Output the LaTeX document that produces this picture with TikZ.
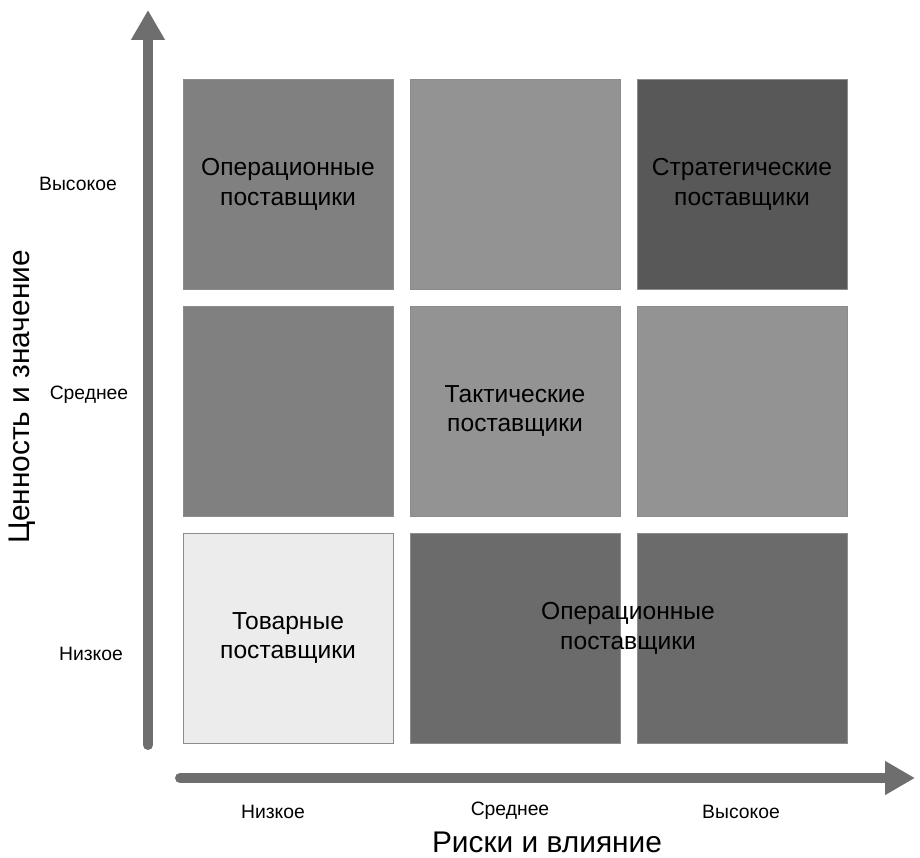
\documentclass[tikz,border=0pt]{standalone}
\usepackage{fontspec}
\setmainfont{Liberation Sans}
\usepackage{tikz}
\usetikzlibrary{arrows.meta}
\usepackage{tkz-euclide}
\usepackage{xcolor}

\definecolor{axisgray}{HTML}{6E6E6E}
\definecolor{cellmid}{HTML}{808080}
\definecolor{cellsoft}{HTML}{939393}
\definecolor{celldark}{HTML}{585858}
\definecolor{cellheavy}{HTML}{6B6B6B}
\definecolor{cellpale}{HTML}{ECECEC}

\begin{document}
\begin{tikzpicture}[scale=1,
    cell/.style={draw=black!45, line width=0.5pt, minimum size=4.2cm, inner sep=0pt,
                 align=center, font=\fontsize{14}{17}\selectfont},
    tick/.style={font=\fontsize{11}{13}\selectfont},
    title/.style={font=\fontsize{17}{20}\selectfont},
    axis/.style={axisgray, line width=2mm, line cap=round,
                 -{Triangle[length=6mm, width=6.4mm]}}]
            \useasboundingbox (0,0) rectangle (18.4,17.14);
            \tkzDefPoints{2.96/2.24/V0, 2.96/16.94/V1, 3.6/1.58/H0, 18.3/1.58/H1}
            % high value row
            \node[cell, fill=cellmid]   (v3r1) at (5.76,13.46) {Операционные\\поставщики};
            \node[cell, fill=cellsoft]  (v3r2) at (10.30,13.46) {};
            \node[cell, fill=celldark]  (v3r3) at (14.84,13.46) {Стратегические\\поставщики};
            % middle row
            \node[cell, fill=cellmid]   (v2r1) at (5.76,8.92) {};
            \node[cell, fill=cellsoft]  (v2r2) at (10.30,8.92) {Тактические\\поставщики};
            \node[cell, fill=cellsoft]  (v2r3) at (14.84,8.92) {};
            % low row
            \node[cell, fill=cellpale]  (v1r1) at (5.76,4.38) {Товарные\\поставщики};
            \node[cell, fill=cellheavy] (v1r2) at (10.30,4.38) {};
            \node[cell, fill=cellheavy] (v1r3) at (14.84,4.38) {};
            \node[align=center, font=\fontsize{14}{17}\selectfont] (oplow) at (12.56,4.58) {Операционные\\поставщики};
            % axes
            \draw[axis] (V0) -- (V1);
            \draw[axis] (H0) -- (H1);
            \node[tick] (yhigh) at (1.56,13.46) {Высокое};
            \node[tick] (ymid)  at (1.78,9.24)  {Среднее};
            \node[tick] (ylow)  at (1.82,4.06)  {Низкое};
            \node[tick] (xlow)  at (5.46,0.90)  {Низкое};
            \node[tick] (xmid)  at (10.20,0.92) {Среднее};
            \node[tick] (xhigh) at (14.82,0.90) {Высокое};
            \node[title] (xtitle) at (10.94,0.30) {Риски и влияние};
            \node[title, rotate=90] (ytitle) at (0.44,9.20) {Ценность и значение};
        \end{tikzpicture}
\end{document}
